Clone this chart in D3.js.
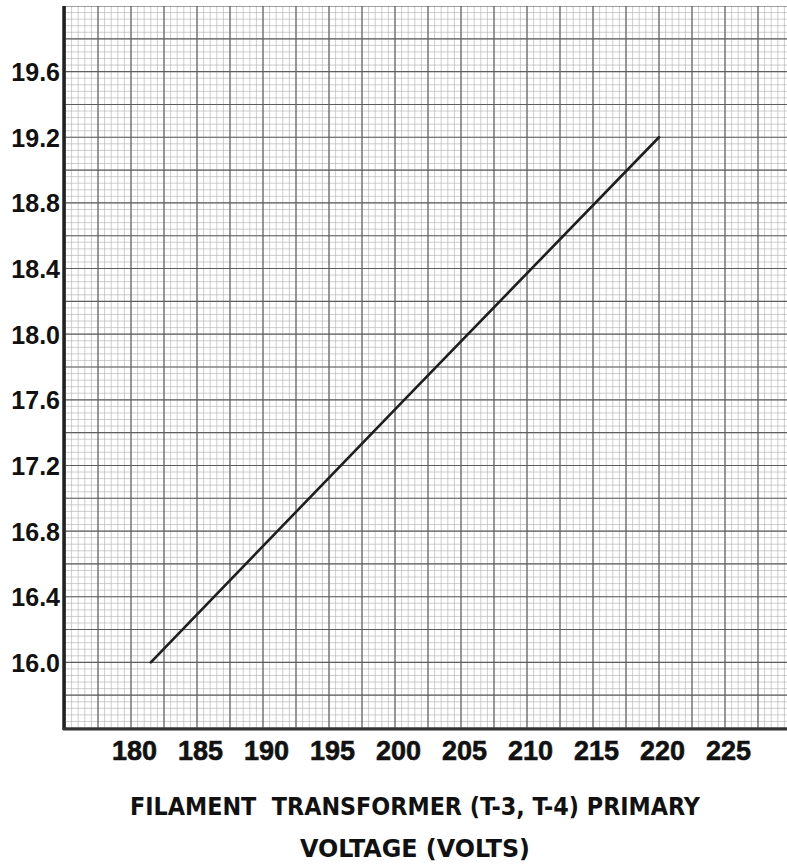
<!DOCTYPE html>
<html>
<head>
<meta charset="utf-8">
<script src="https://cdn.jsdelivr.net/npm/d3@7"></script>
<style>
  html, body { margin: 0; padding: 0; background: #fff; }
  svg { display: block; }
  .tick text { font-family: "Liberation Sans", Arial, sans-serif; font-weight: bold; fill: #111; }
  .title { font-family: "DejaVu Sans Condensed", "DejaVu Sans", sans-serif; font-stretch: condensed; font-weight: bold; fill: #111; }
</style>
</head>
<body>
<svg id="chart" width="787" height="865"></svg>
<script>
// Primary voltage (V) vs. filament voltage reading
const voltage = [181.5, 200.7, 220];
const filament = [16.0, 17.6, 19.2];

const xTicks = [180, 185, 190, 195, 200, 205, 210, 215, 220, 225];
const yTicks = [16.0, 16.4, 16.8, 17.2, 17.6, 18.0, 18.4, 18.8, 19.2, 19.6];

const titleLines = ["FILAMENT  TRANSFORMER (T-3, T-4) PRIMARY", "VOLTAGE (VOLTS)"];

const svg = d3.select("#chart");
const W = 787, H = 865;
const plotLeft = 65, plotTop = 6, plotBottom = 728, plotRight = 791;

const x = d3.scaleLinear().domain([175, 230]).range([plotLeft, plotRight]);
const y = d3.scaleLinear().domain([15.6, 20.0]).range([plotBottom, plotTop]);

svg.append("defs").append("clipPath").attr("id", "plot")
  .append("rect").attr("x", plotLeft).attr("y", plotTop)
  .attr("width", W - plotLeft).attr("height", plotBottom - plotTop);

const grid = svg.append("g").attr("clip-path", "url(#plot)");

// fine ruling: 0.5 V and 0.04 units
const fineX = d3.range(0, 111).map(i => 175 + i * 0.5);
const fineY = d3.range(0, 111).map(i => 15.6 + i * 0.04);
// heavier ruling: 2.5 V and 0.2 units
const coarseX = d3.range(0, 23).map(i => 175 + i * 2.5);
const coarseY = d3.range(0, 23).map(i => 15.6 + i * 0.2);

grid.selectAll("line.fx").data(fineX).join("line").attr("class", "fx")
  .attr("x1", d => x(d)).attr("x2", d => x(d)).attr("y1", plotTop).attr("y2", plotBottom)
  .attr("stroke", "#b4b4b4").attr("stroke-width", 0.65);
grid.selectAll("line.fy").data(fineY).join("line").attr("class", "fy")
  .attr("y1", d => y(d)).attr("y2", d => y(d)).attr("x1", plotLeft).attr("x2", W)
  .attr("stroke", "#b4b4b4").attr("stroke-width", 0.65);
grid.selectAll("line.cx").data(coarseX).join("line").attr("class", "cx")
  .attr("x1", d => x(d)).attr("x2", d => x(d)).attr("y1", plotTop).attr("y2", plotBottom)
  .attr("stroke", "#5e5e5e").attr("stroke-width", 1.15);
grid.selectAll("line.cy").data(coarseY).join("line").attr("class", "cy")
  .attr("y1", d => y(d)).attr("y2", d => y(d)).attr("x1", plotLeft).attr("x2", W)
  .attr("stroke", "#5e5e5e").attr("stroke-width", 1.15);

// frame: heavy left and bottom edges
svg.append("line").attr("x1", plotLeft - 1).attr("x2", plotLeft - 1)
  .attr("y1", plotTop).attr("y2", plotBottom + 2)
  .attr("stroke", "#222").attr("stroke-width", 3.5);
svg.append("line").attr("x1", plotLeft - 2).attr("x2", W)
  .attr("y1", plotBottom + 1).attr("y2", plotBottom + 1)
  .attr("stroke", "#333").attr("stroke-width", 3);

// curve
const pts = voltage.map((v, i) => [v, filament[i]]);
svg.append("path").datum(pts)
  .attr("fill", "none").attr("stroke", "#1e1e1e").attr("stroke-width", 2.6)
  .attr("stroke-linecap", "round")
  .attr("d", d3.line().x(d => x(d[0])).y(d => y(d[1])));

// axes
const yAxis = svg.append("g").attr("transform", `translate(${plotLeft - 5},0)`)
  .call(d3.axisLeft(y).tickValues(yTicks).tickFormat(d3.format(".1f")).tickSize(0).tickPadding(0));
yAxis.select(".domain").remove();
yAxis.selectAll("text").attr("font-size", 25).attr("dy", "0.36em");

const xAxis = svg.append("g").attr("transform", `translate(0,${plotBottom + 13})`)
  .call(d3.axisBottom(x).tickValues(xTicks).tickFormat(d3.format("d")).tickSize(0).tickPadding(0));
xAxis.select(".domain").remove();
xAxis.selectAll("text").attr("font-size", 27).attr("dy", "0.71em").attr("dx", 3)
  .style("stroke", "#111").style("stroke-width", 0.6);

// axis title
svg.append("text").attr("class", "title")
  .attr("x", 415).attr("y", 815).attr("text-anchor", "middle")
  .attr("font-size", 25).attr("textLength", 570).attr("lengthAdjust", "spacingAndGlyphs")
  .style("white-space", "pre")
  .text(titleLines[0]);
svg.append("text").attr("class", "title")
  .attr("x", 415).attr("y", 857).attr("text-anchor", "middle")
  .attr("font-size", 25).attr("textLength", 230).attr("lengthAdjust", "spacingAndGlyphs")
  .text(titleLines[1]);
</script>
</body>
</html>
